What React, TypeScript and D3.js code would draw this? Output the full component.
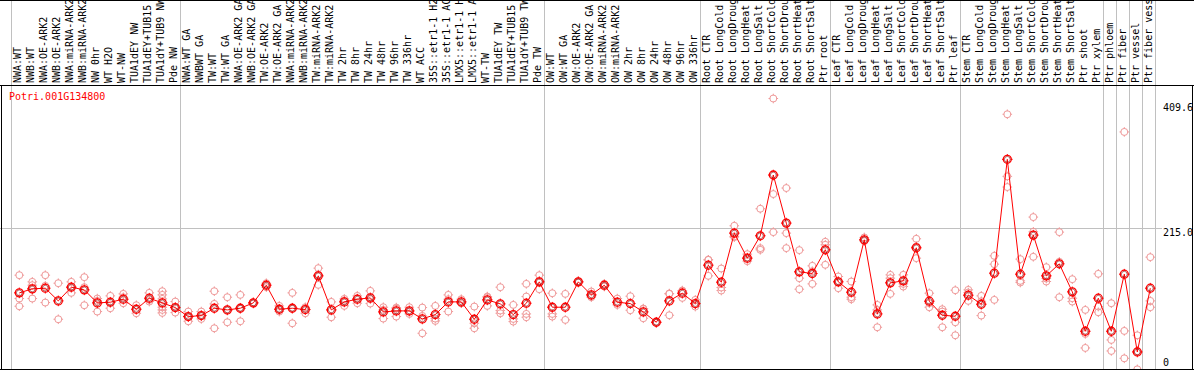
import React from "react";
import * as d3 from "d3";

const geneName = "Potri.001G134800";

const categories = [
  "NWA:WT", "NWB:WT", "NWA:OE-ARK2", "NWB:OE-ARK2", "NWA:miRNA-ARK2", "NWB:miRNA-ARK2",
  "NW 0hr", "WT H2O", "WT-NW", "TUA1dEY NW", "TUA1dEY+TUB15 NW", "TUA1dY+TUB9 NW", "Pde NW",
  "NWA:WT GA", "NWBWT GA", "TW:WT", "TW:WT GA", "NWA:OE-ARK2 GA", "NWB:OE-ARK2 GA",
  "TW:OE-ARK2", "TW:OE-ARK2 GA", "NWA:miRNA-ARK2 GA", "NWB:miRNA-ARK2 GA", "TW:miRNA-ARK2",
  "TW:miRNA-ARK2 GA", "TW 2hr", "TW 8hr", "TW 24hr", "TW 48hr", "TW 96hr", "TW 336hr",
  "WT ACC", "35S::etr1-1 H2O", "35S::etr1-1 ACC", "LMX5::etr1-1 H2O", "LMX5::etr1-1 ACC",
  "WT-TW", "TUA1dEY TW", "TUA1dEY+TUB15 TW", "TUA1dY+TUB9 TW", "Pde TW",
  "OW:WT", "OW:WT GA", "OW:OE-ARK2", "OW:OE-ARK2 GA", "OW:miRNA-ARK2", "OW:miRNA-ARK2 GA",
  "OW 2hr", "OW 8hr", "OW 24hr", "OW 48hr", "OW 96hr", "OW 336hr",
  "Root CTR", "Root LongCold", "Root LongDrought", "Root LongHeat", "Root LongSalt",
  "Root ShortCold", "Root ShortDrought", "Root ShortHeat", "Root ShortSalt", "Ptr root",
  "Leaf CTR", "Leaf LongCold", "Leaf LongDrought", "Leaf LongHeat", "Leaf LongSalt",
  "Leaf ShortCold", "Leaf ShortDrought", "Leaf ShortHeat", "Leaf ShortSalt", "Ptr leaf",
  "Stem CTR", "Stem LongCold", "Stem LongDrought", "Stem LongHeat", "Stem LongSalt",
  "Stem ShortCold", "Stem ShortDrought", "Stem ShortHeat", "Stem ShortSalt", "Ptr shoot",
  "Ptr xylem", "Ptr phloem", "Ptr fiber", "Ptr vessel", "Ptr fiber vessel",
];

// index where each group starts (last entry = end)
const groupStarts = [0, 13, 41, 53, 63, 73, 84, 85, 86, 87, 88];

const means = [
  118.5, 124.5, 125.5, 106.5, 127, 123, 103.5, 104.5, 109, 94, 110.5, 103.5, 96.5,
  83, 84.5, 95.5, 93, 95.5, 103.5, 130, 94, 95.5, 93.5, 144, 93, 105, 109, 111, 90,
  91.5, 91.5, 79.5, 86, 105, 105, 79, 108, 102, 86, 103, 135,
  97, 97, 135, 115.5, 130, 104.5, 102.5, 90, 74.5, 106.5, 118, 102.5,
  160, 134.5, 208, 170.5, 204, 295, 223, 150, 147.5, 183,
  135, 119.5, 198, 87, 133.5, 136.5, 186, 106, 85, 83.5,
  115, 101.5, 148, 318.5, 146.5, 205, 144, 162, 120, 61, 110.5,
  61, 146.5, 30, 125.5,
];

const replicates = [
  [145, 110, 98.5], [135, 130, 110], [145, 129, 104], [133, 79], [135, 127, 118.5],
  [142, 127, 100], [110, 106.5, 90.5], [114, 104.5, 95.5], [117, 112, 103], [100, 88],
  [118.5, 105.5, 108], [121, 115.5, 109.5, 97, 93, 88.5], [105.5, 96.5, 89],
  [90.5, 83, 76], [90.5, 84.5, 79.5], [121, 102, 65.5], [112, 93, 74.5], [115.5, 95.5, 76],
  [104, 103, 103.5], [133, 130, 127], [99, 94, 90.5], [118.5, 95.5, 73], [95.5, 88, 97],
  [155.5, 130.5, 146], [105, 82], [109.5, 99, 106.5], [114, 103, 110], [121.5, 102.5, 109],
  [97, 80, 93], [96.5, 83, 95], [97, 87, 90.5], [96.5, 58, 84], [99, 80, 76.5],
  [115.5, 90.5, 109], [109, 103, 103], [98, 73, 65.5], [112, 99, 113], [127, 92, 88],
  [100.5, 79.5, 75.5], [132, 113, 87, 82], [145, 124, 136],
  [118, 87, 83], [117, 78], [136, 135, 134], [120.5, 112, 114], [132, 130, 128],
  [110, 100.5], [113.5, 92.5], [95, 80.5, 94.5], [75, 74.5, 74], [117, 85, 117.5],
  [122, 111, 121], [108, 98, 101.5],
  [168, 144, 168], [155, 126.5, 122], [219, 203, 202], [176.5, 166, 171], [244.5, 185.5, 183],
  [409.6, 266.5, 209.5], [275.5, 208, 185.5], [182.5, 140.5, 124], [159, 132, 151],
  [195, 190.5, 160.5],
  [143, 125.5, 136], [135.5, 112, 109], [201.5, 196, 197], [100.5, 67, 93],
  [145.5, 140.5, 117], [145.5, 132, 128], [199.5, 170.5, 188], [118, 97, 103],
  [94, 90.5, 67], [122.5, 74.5, 55],
  [123, 119, 106.5], [114, 84.5, 106], [174, 161.5, 108], [386, 293, 277],
  [169, 136.5, 134], [232, 210, 172.5], [157, 135.5, 140], [209.5, 112, 165],
  [139, 110.5, 105.5], [93, 57, 36], [147, 98, 89.5],
  [103, 48, 31.5], [359.5, 61.5, 20.5], [55, 31, 4], [172, 106.5, 97],
];

const yTicks = [409.6, 215.0, 0];
const gridValues = [215.0];

const W = 1194;
const H = 370;
const FONT = "'DejaVu Sans Mono', monospace";
const RED = "#ff0000";
const PINK = "#ef9a9a";
const GRAY = "#c0c0c0";

function Ring({ cx, cy, color, r, sw }: { cx: number; cy: number; color: string; r: number; sw: number }) {
  const t = r + 1.3;
  const s = r - 0.6;
  return (
    <g stroke={color} fill="none" strokeWidth={sw}>
      <circle cx={cx} cy={cy} r={r} />
      <line x1={cx} y1={cy - t} x2={cx} y2={cy - s} strokeWidth={1} />
      <line x1={cx} y1={cy + s} x2={cx} y2={cy + t} strokeWidth={1} />
      <line x1={cx - t} y1={cy} x2={cx - s} y2={cy} strokeWidth={1} />
      <line x1={cx + s} y1={cy} x2={cx + t} y2={cy} strokeWidth={1} />
    </g>
  );
}

export default function App() {
  const x = d3.scaleBand<number>().domain(d3.range(categories.length)).range([11, 1155]).padding(0);
  const y = d3.scaleLinear().domain([0, 409.6]).range([372, 98.5]);
  const px = (i: number) => (x(i) as number) + 8.3;

  const line = d3
    .line<number>()
    .x((_, i) => px(i))
    .y((d) => y(d));

  const headerBottom = 85.5;
  const plotBottom = 369.5;

  return (
    <div>
      <style>{`body{margin:0;background:#fff}`}</style>
      <svg width={W} height={H} style={{ display: "block" }}>
        <defs>
          <clipPath id="hdr">
            <rect x={0} y={1} width={W} height={headerBottom - 1.5} />
          </clipPath>
          <clipPath id="plot">
            <rect x={2} y={headerBottom + 0.5} width={1190} height={plotBottom - headerBottom - 1} />
          </clipPath>
        </defs>
        <rect x={0} y={0} width={W} height={H} fill="#fff" />

        {/* grid line */}
        {gridValues.map((v) => (
          <line key={v} x1={0} x2={1162} y1={Math.round(y(v)) + 0.5} y2={Math.round(y(v)) + 0.5} stroke={GRAY} strokeWidth={1} />
        ))}

        {/* group separators */}
        {groupStarts.map((g) => {
          const xx = Math.round(g < categories.length ? (x(g) as number) : 1155) + 0.5;
          return <line key={g} x1={xx} x2={xx} y1={0} y2={plotBottom} stroke={GRAY} strokeWidth={1} />;
        })}

        {/* category labels */}
        <g clipPath="url(#hdr)" fontFamily={FONT} fontSize={10} fill="#000">
          {categories.map((c, i) => (
            <text key={i} transform={`translate(${(x(i) as number) + 10},83) rotate(-90)`}>
              {c}
            </text>
          ))}
        </g>

        <g clipPath="url(#plot)">
          {/* replicates */}
          {replicates.map((reps, i) =>
            reps.map((v, j) => <Ring key={`${i}-${j}`} cx={px(i)} cy={y(v)} color={PINK} r={3.5} sw={1} />)
          )}
          {/* mean line */}
          <path d={line(means) || ""} fill="none" stroke={RED} strokeWidth={1} />
          {/* means */}
          {means.map((v, i) => (
            <g key={i}>
              <Ring cx={px(i)} cy={y(v)} color={RED} r={4} sw={1.3} />
              <circle cx={px(i)} cy={y(v)} r={2.9} fill="none" stroke="#8a0000" strokeWidth={0.6} />
            </g>
          ))}
        </g>

        {/* gene name */}
        <text x={9} y={100} fontFamily={FONT} fontSize={10} fill={RED}>
          {geneName}
        </text>

        {/* y tick labels */}
        {yTicks.map((v) => (
          <text
            key={v}
            x={1163}
            y={Math.min(Math.max(y(v) + 8, 111), 366)}
            fontFamily={FONT}
            fontSize={10}
            fill="#000"
          >
            {v.toFixed(v === 0 ? 0 : 1)}
          </text>
        ))}

        {/* borders */}
        <line x1={0} x2={W} y1={0.5} y2={0.5} stroke="#000" strokeWidth={1} />
        <line x1={0} x2={W} y1={headerBottom} y2={headerBottom} stroke="#000" strokeWidth={1} />
        <line x1={0} x2={W} y1={plotBottom} y2={plotBottom} stroke="#000" strokeWidth={1} />
        <line x1={1.5} x2={1.5} y1={headerBottom} y2={plotBottom} stroke="#000" strokeWidth={1} />
        <line x1={1192.5} x2={1192.5} y1={headerBottom} y2={plotBottom} stroke="#000" strokeWidth={1} />
      </svg>
    </div>
  );
}
